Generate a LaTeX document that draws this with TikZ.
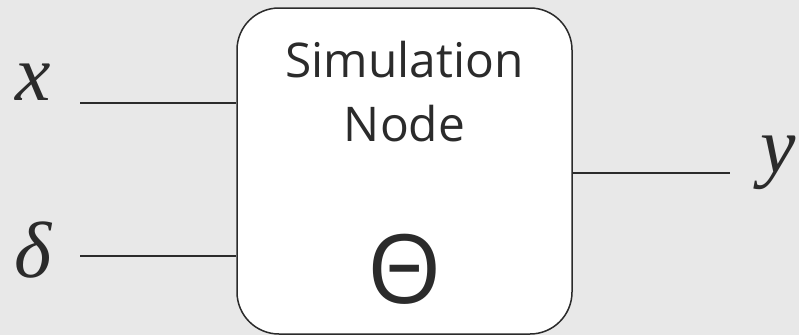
\documentclass[tikz,border=0pt]{standalone}
\usepackage{fontspec}
\setmainfont{Open Sans}
\newfontfamily\varfont{Liberation Serif}
\usepackage{tikz}
\usetikzlibrary{positioning}
\definecolor{bgGray}{HTML}{E8E8E8}
\definecolor{lineBlack}{HTML}{2B2B2B}

\tikzset{
  simbox/.style={draw=lineBlack, line width=1.5bp, fill=white, rounded corners=42bp,
    minimum width=335bp, minimum height=326bp, inner sep=0pt},
  wire/.style={draw=lineBlack, line width=1.5bp},
  varlabel/.style={text=lineBlack, inner sep=0pt, font=\varfont\itshape\fontsize{80}{84}\selectfont},
  boxtext/.style={text=lineBlack, inner sep=0pt, align=center, font=\fontsize{48}{64}\selectfont}
}

\begin{document}
\begin{tikzpicture}[x=1bp, y=-1bp]
        % 背景
        \fill[bgGray] (0,0) rectangle (799,335);
        \useasboundingbox (0,0) rectangle (799,335);

        % シミュレーションノード本体
        \node[simbox] (sim) at (404.5,171) {};
        \node[boxtext, below=34bp of sim.north] (simname) {Simulation\\Node};
        \node[boxtext, font=\fontsize{96}{98}\selectfont] (theta) at (405,269) {Θ};

        % 入出力の端点
        \coordinate (xin) at (80,103);
        \coordinate (din) at (80,256);
        \coordinate (yout) at (730,173);

        \draw[wire] (xin) -- (xin -| sim.west);
        \draw[wire] (din) -- (din -| sim.west);
        \draw[wire] (yout -| sim.east) -- (yout);

        % 変数名
        \node[varlabel] (xlabel) at (33,82) {x};
        \node[varlabel] (dlabel) at (33,250) {δ};
        \node[varlabel] (ylabel) at (778,163) {y};
    \end{tikzpicture}
\end{document}
